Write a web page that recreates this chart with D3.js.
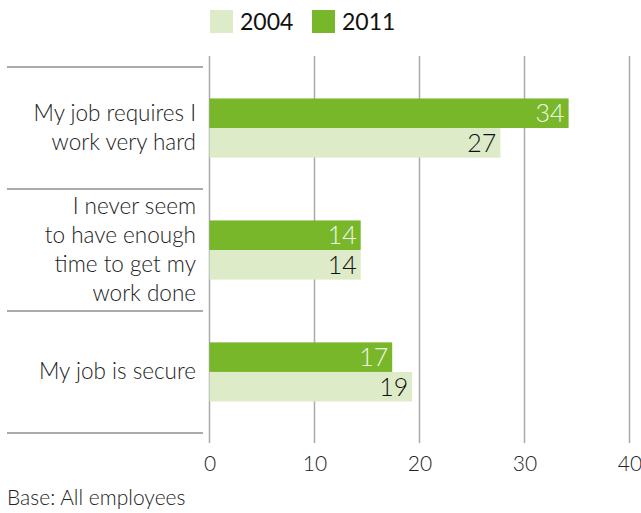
<!DOCTYPE html>
<html><head><meta charset="utf-8">
<script src="https://cdn.jsdelivr.net/npm/d3@7"></script>
<style>
body{margin:0;background:#fff;}
svg{display:block;font-family:Lato,"Open Sans",sans-serif;}
</style></head>
<body><svg id="c" width="641" height="513"></svg>
<script>
const categories = [
  ["My job requires I","work very hard"],
  ["I never seem","to have enough","time to get my","work done"],
  ["My job is secure"]
];
const series = ["2011","2004"];
const values2011 = [34.2, 14.4, 17.4];
const values2004 = [27.7, 14.4, 19.3];
const labels2011 = [34, 14, 17];
const labels2004 = [27, 14, 19];
const ticks = [0, 10, 20, 30, 40];
const legendOrder = ["2004","2011"];
const colors = {"2004":"#ddebc8","2011":"#78b72a"};

const svg = d3.select("#c");
const x = d3.scaleLinear().domain([0,40]).range([209.5,629.5]);
const y = d3.scaleBand().domain(d3.range(categories.length)).range([67,433]).paddingInner(0.515).paddingOuter(0.258);
const ys = d3.scaleBand().domain(series).range([0,y.bandwidth()]);

// gridlines
svg.append("g").selectAll("line").data(ticks).join("line")
  .attr("x1",d=>x(d)).attr("x2",d=>x(d)).attr("y1",56).attr("y2",443)
  .attr("stroke","#aaaaaa").attr("stroke-width",1.5);

// separators
const seps = [0,1,2,3].map(i=> i<3 ? y(i)-y.step()*y.paddingInner()/2 : y(2)+y.bandwidth()+y.step()*y.paddingInner()/2);
svg.append("g").selectAll("line").data(seps).join("line")
  .attr("x1",7).attr("x2",203).attr("y1",d=>d).attr("y2",d=>d)
  .attr("stroke","#aaaaaa").attr("stroke-width",2);

const data = categories.map((c,i)=>({i, v:{"2011":values2011[i],"2004":values2004[i]}, l:{"2011":labels2011[i],"2004":labels2004[i]}}));
const g = svg.append("g");
data.forEach(d=>{
  series.forEach(s=>{
    g.append("rect").attr("x",x(0)).attr("y",y(d.i)+ys(s))
      .attr("width",x(d.v[s])-x(0)).attr("height",ys.bandwidth())
      .attr("fill",colors[s]);
    g.append("text").attr("x",x(d.v[s])-4).attr("y",y(d.i)+ys(s)+ys.bandwidth()/2+9)
      .attr("text-anchor","end").attr("font-size",25).attr("font-weight",300)
      .attr("fill", s==="2011" ? "#f2f7ea" : "#111").text(d.l[s]);
  });
});

// category labels
categories.forEach((lines,i)=>{
  const cy = y(i)+y.bandwidth()/2;
  const lh = 28.8;
  const t = svg.append("text").attr("text-anchor","end").attr("font-size",22.5).attr("font-weight",300).attr("fill","#222");
  lines.forEach((ln,j)=>{
    t.append("tspan").attr("x",196).attr("y",cy+(j-(lines.length-1)/2)*lh+7.5).text(ln);
  });
});

// axis tick labels
const ax = svg.append("g").attr("transform","translate(0,444)")
  .call(d3.axisBottom(x).tickValues(ticks).tickSize(0).tickPadding(12));
ax.select(".domain").remove();
ax.selectAll("text").attr("font-size",21).attr("font-weight",300).attr("fill","#222").attr("font-family","Lato,'Open Sans',sans-serif");

// footnote
svg.append("text").attr("x",7).attr("y",505).attr("font-size",21).attr("font-weight",300).attr("fill","#222").text("Base: All employees");

// legend
const lx = [210, 312];
legendOrder.forEach((s,i)=>{
  svg.append("rect").attr("x",lx[i]).attr("y",10).attr("width",23).attr("height",23).attr("fill",colors[s]);
  svg.append("text").attr("x",lx[i]+30).attr("y",30).attr("font-size",23).attr("font-weight",400).attr("fill","#111").text(s);
});
</script></body></html>
